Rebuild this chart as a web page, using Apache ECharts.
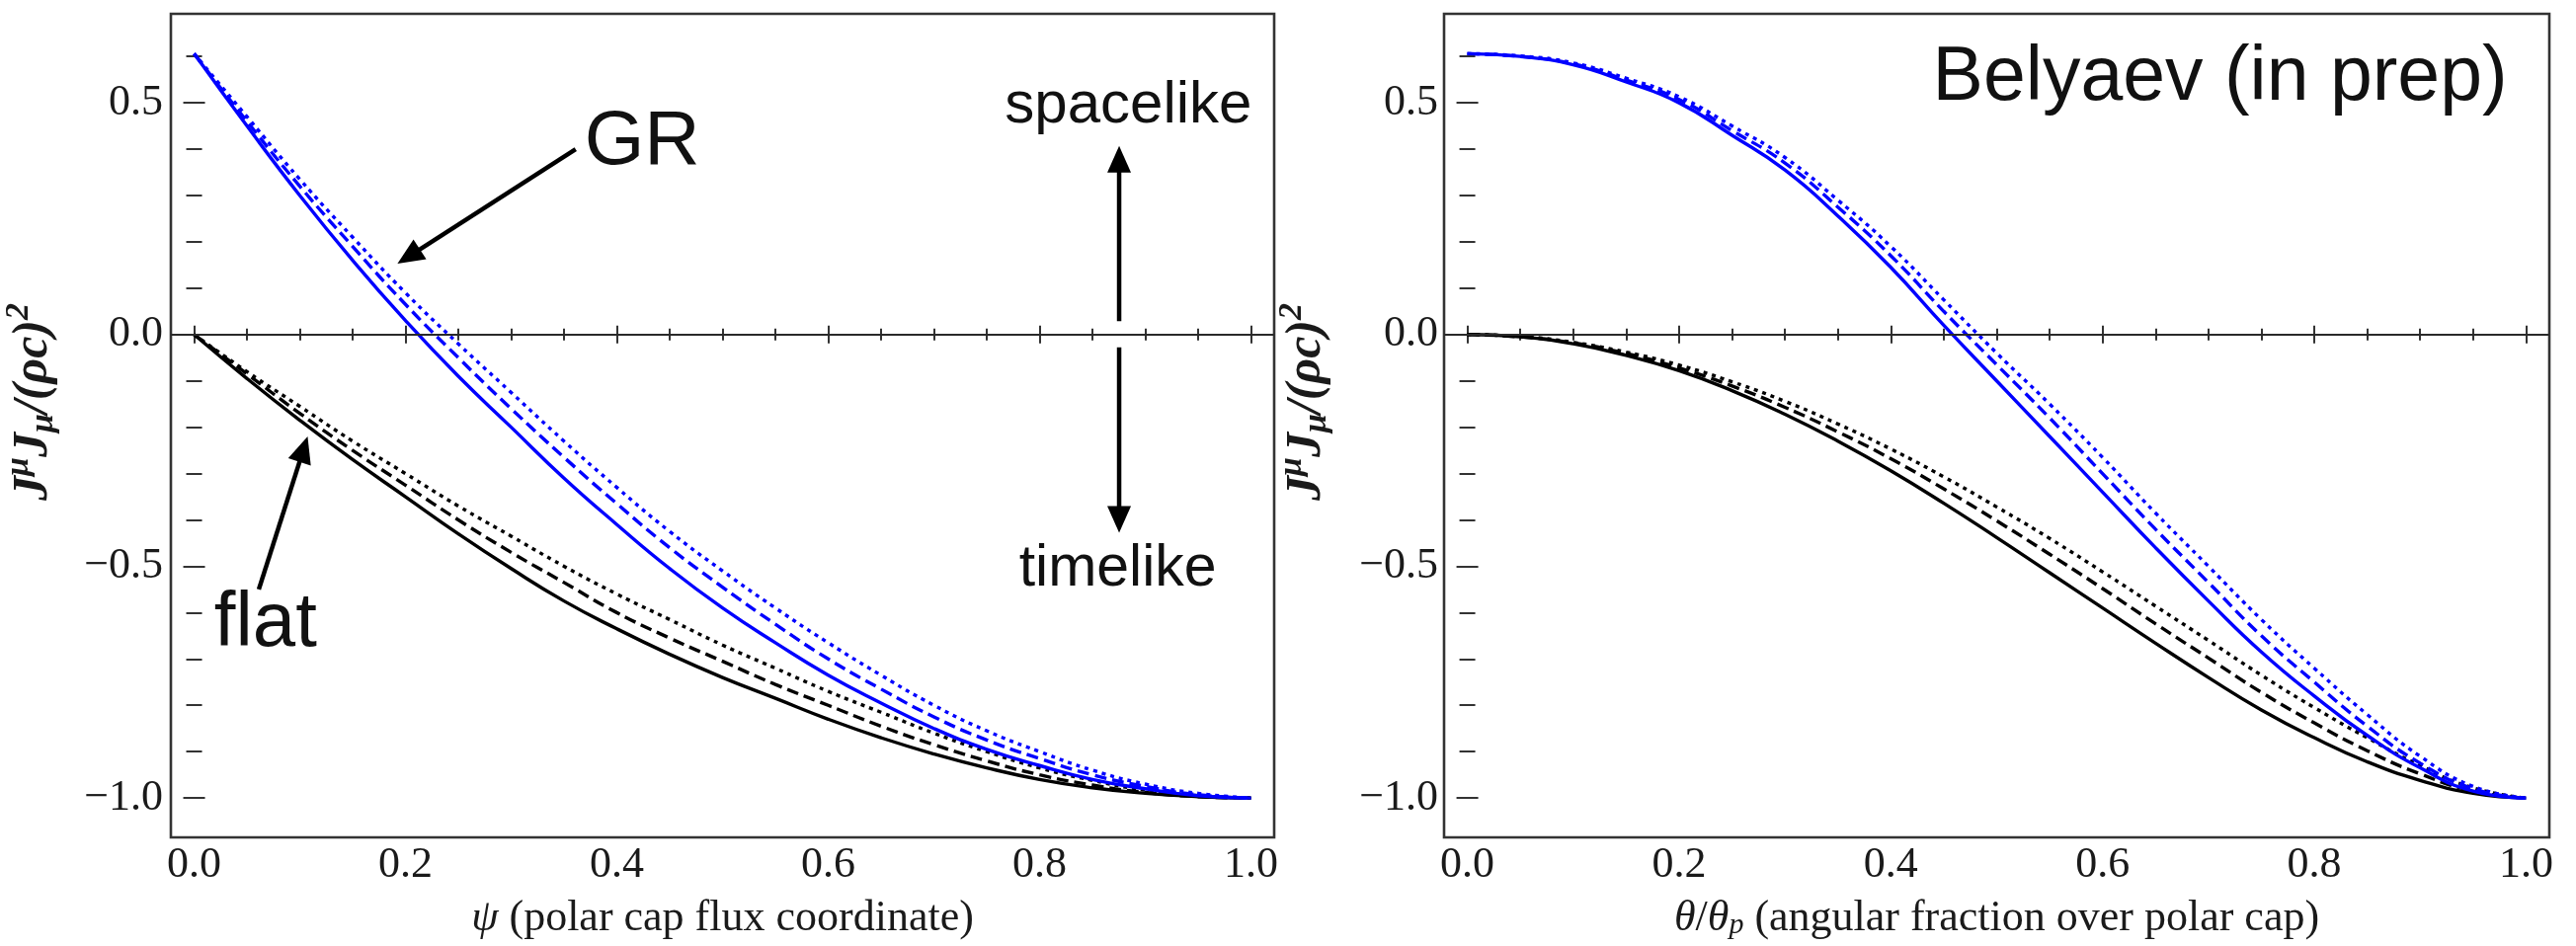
<!DOCTYPE html>
<html>
<head>
<meta charset="utf-8">
<script src="https://cdn.jsdelivr.net/npm/echarts@6/dist/echarts.min.js"></script>
<style>
  html, body { margin: 0; padding: 0; background: #ffffff; }
  #chart { width: 2608px; height: 958px; }
</style>
</head>
<body>
<div id="chart"></div>
<script>
// ---- sample abscissae (both panels use the same spacing) ----
const psiSamples   = [0, 0.05, 0.1, 0.15, 0.2, 0.25, 0.3, 0.35, 0.4, 0.45, 0.5, 0.55, 0.6, 0.65, 0.7, 0.75, 0.8, 0.85, 0.9, 0.95, 1.0];
const thetaSamples = [0, 0.05, 0.1, 0.15, 0.2, 0.25, 0.3, 0.35, 0.4, 0.45, 0.5, 0.55, 0.6, 0.65, 0.7, 0.75, 0.8, 0.85, 0.9, 0.95, 1.0];

// ---- left panel: J^mu J_mu/(rho c)^2 against psi ----
const flatSolidPsi  = [0, -0.095, -0.185, -0.27, -0.35, -0.43, -0.505, -0.575, -0.635, -0.69, -0.74, -0.785, -0.83, -0.87, -0.905, -0.935, -0.96, -0.978, -0.99, -0.997, -1.0];
const flatDashedPsi = [0, -0.085, -0.17, -0.25, -0.325, -0.4, -0.47, -0.535, -0.6, -0.655, -0.705, -0.755, -0.8, -0.845, -0.885, -0.92, -0.95, -0.972, -0.988, -0.997, -1.0];
const flatDottedPsi = [0, -0.08, -0.155, -0.23, -0.3, -0.37, -0.435, -0.5, -0.56, -0.615, -0.67, -0.72, -0.77, -0.815, -0.86, -0.9, -0.935, -0.962, -0.983, -0.995, -1.0];
const grSolidPsi    = [0.606, 0.45, 0.30, 0.16, 0.03, -0.09, -0.2, -0.31, -0.41, -0.505, -0.59, -0.665, -0.735, -0.795, -0.85, -0.895, -0.93, -0.96, -0.98, -0.995, -1.0];
const grDashedPsi   = [0.606, 0.46, 0.32, 0.19, 0.065, -0.05, -0.16, -0.265, -0.365, -0.46, -0.545, -0.625, -0.7, -0.765, -0.825, -0.875, -0.915, -0.95, -0.975, -0.993, -1.0];
const grDottedPsi   = [0.606, 0.47, 0.335, 0.21, 0.09, -0.02, -0.125, -0.23, -0.33, -0.425, -0.51, -0.59, -0.665, -0.735, -0.8, -0.855, -0.9, -0.94, -0.97, -0.99, -1.0];

// ---- right panel: same quantity against theta/theta_p ----
const flatSolidTheta  = [0, -0.005, -0.02, -0.045, -0.078, -0.121, -0.172, -0.23, -0.294, -0.364, -0.438, -0.514, -0.59, -0.666, -0.74, -0.81, -0.87, -0.922, -0.962, -0.99, -1.0];
const flatDashedTheta = [0, -0.005, -0.018, -0.041, -0.072, -0.111, -0.157, -0.21, -0.268, -0.333, -0.402, -0.474, -0.548, -0.624, -0.698, -0.772, -0.838, -0.898, -0.948, -0.985, -1.0];
const flatDottedTheta = [0, -0.004, -0.017, -0.038, -0.066, -0.102, -0.144, -0.193, -0.247, -0.307, -0.372, -0.44, -0.512, -0.586, -0.66, -0.735, -0.805, -0.87, -0.93, -0.978, -1.0];
const grSolidTheta    = [0.606, 0.60, 0.582, 0.545, 0.50, 0.43, 0.355, 0.256, 0.145, 0.02, -0.10, -0.22, -0.34, -0.46, -0.575, -0.685, -0.78, -0.865, -0.935, -0.985, -1.0];
const grDashedTheta   = [0.606, 0.60, 0.584, 0.549, 0.507, 0.44, 0.37, 0.275, 0.17, 0.05, -0.065, -0.18, -0.3, -0.42, -0.535, -0.65, -0.75, -0.845, -0.925, -0.98, -1.0];
const grDottedTheta   = [0.606, 0.601, 0.586, 0.553, 0.513, 0.45, 0.382, 0.29, 0.19, 0.075, -0.04, -0.15, -0.265, -0.385, -0.5, -0.615, -0.72, -0.82, -0.91, -0.975, -1.0];

// ---- axes ----
const xRange = [-0.022, 1.022];
const yRange = [-1.085, 0.692];
const xMajorTicks = [0, 0.2, 0.4, 0.6, 0.8, 1.0];
const xMinorTicks = [0, 0.05, 0.1, 0.15, 0.2, 0.25, 0.3, 0.35, 0.4, 0.45, 0.5, 0.55, 0.6, 0.65, 0.7, 0.75, 0.8, 0.85, 0.9, 0.95, 1.0];
const yMajorTicks = [-1.0, -0.5, 0, 0.5];
const yMinorTicks = [-1.0, -0.9, -0.8, -0.7, -0.6, -0.5, -0.4, -0.3, -0.2, -0.1, 0, 0.1, 0.2, 0.3, 0.4, 0.5, 0.6];

// ---- annotations (data units of the panel they sit in) ----
const annotationArrows = [
  { panel: 0, from: [0.361, 0.400],   to: [0.1924, 0.1527] },
  { panel: 0, from: [0.0612, -0.55],  to: [0.1074, -0.22] },
  { panel: 0, from: [0.8753, 0.0288], to: [0.8753, 0.407] },
  { panel: 0, from: [0.8753, -0.0277], to: [0.8753, -0.4277] }
];
const annotationTexts = [
  { panel: 0, text: 'GR',        at: [0.3693, 0.362],  align: 'left',   size: 78 },
  { panel: 0, text: 'flat',      at: [0.019, -0.678],  align: 'left',   size: 78 },
  { panel: 0, text: 'spacelike', at: [0.884, 0.454],   align: 'center', size: 60 },
  { panel: 0, text: 'timelike',  at: [0.874, -0.545],  align: 'center', size: 59 },
  { panel: 1, text: 'Belyaev (in prep)', at: [0.9825, 0.5016], align: 'right', size: 77 }
];

const SERIF = '"Liberation Serif", "Times New Roman", serif';
const SANS = '"Liberation Sans", Helvetica, Arial, sans-serif';
const FRAME = '#333333';
const BLUE = '#0000ff';
const BLACK = '#000000';
const DASHED = [12, 6];
const DOTTED = [4, 5];

const fmt = v => (v < 0 ? '\u2212' : '') + Math.abs(v).toFixed(1);
const tickStyle = { color: FRAME, width: 2 };

function xAxesFor(gridIndex, title, titleRich) {
  const base = {
    type: 'value', gridIndex, min: xRange[0], max: xRange[1],
    axisLine: { show: false }, splitLine: { show: false }
  };
  return [
    Object.assign({}, base, {
      position: 'bottom',
      axisTick: { show: true, inside: true, length: 9, customValues: xMajorTicks, lineStyle: tickStyle },
      axisLabel: { show: true, customValues: xMajorTicks, formatter: fmt, margin: 6,
                   fontFamily: SERIF, fontSize: 44, color: '#1a1a1a' },
      name: title, nameLocation: 'middle', nameGap: 60,
      nameTextStyle: { fontFamily: SERIF, fontSize: 44, color: '#1a1a1a', rich: titleRich }
    }),
    Object.assign({}, base, {
      position: 'bottom',
      axisTick: { show: true, inside: true, length: 6, customValues: xMinorTicks, lineStyle: tickStyle },
      axisLabel: { show: false }
    }),
    Object.assign({}, base, {
      position: 'top',
      axisTick: { show: true, inside: true, length: 9, customValues: xMajorTicks, lineStyle: tickStyle },
      axisLabel: { show: false }
    }),
    Object.assign({}, base, {
      position: 'top',
      axisTick: { show: true, inside: true, length: 6, customValues: xMinorTicks, lineStyle: tickStyle },
      axisLabel: { show: false }
    })
  ];
}

function yAxesFor(gridIndex, labelMargin) {
  const base = {
    type: 'value', gridIndex, min: yRange[0], max: yRange[1],
    axisLine: { show: false }, splitLine: { show: false }
  };
  return [
    Object.assign({}, base, {
      position: 'left',
      axisTick: { show: true, inside: true, length: 11, customValues: yMajorTicks, lineStyle: tickStyle },
      axisLabel: { show: true, customValues: yMajorTicks, formatter: fmt, margin: labelMargin,
                   fontFamily: SERIF, fontSize: 44, color: '#1a1a1a', padding: [0, 0, 12, 0] }
    }),
    Object.assign({}, base, {
      position: 'left',
      axisTick: { show: true, inside: true, length: 8, customValues: yMinorTicks, lineStyle: tickStyle },
      axisLabel: { show: false }
    }),
    Object.assign({}, base, {
      position: 'right',
      axisTick: { show: true, inside: true, length: 11, customValues: yMajorTicks, lineStyle: tickStyle },
      axisLabel: { show: false }
    }),
    Object.assign({}, base, {
      position: 'right',
      axisTick: { show: true, inside: true, length: 8, customValues: yMinorTicks, lineStyle: tickStyle },
      axisLabel: { show: false }
    })
  ];
}

const xTitleRich = {
  i:   { fontFamily: SERIF, fontStyle: 'italic', fontSize: 44, color: '#1a1a1a' },
  sub: { fontFamily: SERIF, fontStyle: 'italic', fontSize: 30, color: '#1a1a1a', verticalAlign: 'bottom', lineHeight: 30 }
};

// vertical quantity label J^mu J_mu/(rho c)^2, set beside each panel
const yTitleText = '{j|J}{sup|\u03bc}{j|J}{sub|\u03bc}{j|/(\u03c1c)}{sup|2}';
const yTitleRich = {
  j:   { fontFamily: SERIF, fontStyle: 'italic', fontWeight: 'bold', fontSize: 50, lineHeight: 64, verticalAlign: 'middle', fill: '#1a1a1a' },
  sup: { fontFamily: SERIF, fontStyle: 'italic', fontWeight: 'bold', fontSize: 34, lineHeight: 34, verticalAlign: 'top', fill: '#1a1a1a' },
  sub: { fontFamily: SERIF, fontStyle: 'italic', fontWeight: 'bold', fontSize: 34, lineHeight: 34, padding: [0, 0, 5, 0], verticalAlign: 'bottom', fill: '#1a1a1a' }
};

function curve(xs, ys, color, dash, axisIndex, z) {
  return {
    type: 'line',
    xAxisIndex: axisIndex, yAxisIndex: axisIndex,
    data: xs.map((x, i) => [x, ys[i]]),
    showSymbol: false, symbol: 'none',
    smooth: 0.5,
    lineStyle: { color, width: 3.4, type: dash, cap: 'butt' },
    silent: true, animation: false, z
  };
}

const zeroLine = {
  silent: true, symbol: ['none', 'none'], label: { show: false },
  lineStyle: { color: '#2a2a2a', width: 2, type: 'solid' },
  data: [{ yAxis: 0 }], animation: false
};

const series = [
  curve(psiSamples, flatSolidPsi,  BLACK, 'solid', 0, 3),
  curve(psiSamples, flatDashedPsi, BLACK, DASHED,  0, 3),
  curve(psiSamples, flatDottedPsi, BLACK, DOTTED,  0, 3),
  curve(psiSamples, grSolidPsi,    BLUE,  'solid', 0, 4),
  curve(psiSamples, grDashedPsi,   BLUE,  DASHED,  0, 4),
  curve(psiSamples, grDottedPsi,   BLUE,  DOTTED,  0, 4),
  curve(thetaSamples, flatSolidTheta,  BLACK, 'solid', 4, 3),
  curve(thetaSamples, flatDashedTheta, BLACK, DASHED,  4, 3),
  curve(thetaSamples, flatDottedTheta, BLACK, DOTTED,  4, 3),
  curve(thetaSamples, grSolidTheta,    BLUE,  'solid', 4, 4),
  curve(thetaSamples, grDashedTheta,   BLUE,  DASHED,  4, 4),
  curve(thetaSamples, grDottedTheta,   BLUE,  DOTTED,  4, 4)
];
series[0].markLine = zeroLine;
series[6].markLine = zeroLine;

const option = {
  animation: false,
  backgroundColor: '#ffffff',
  grid: [
    { left: 173, top: 14, width: 1117, height: 834, show: true, borderColor: FRAME, borderWidth: 2.6, backgroundColor: 'transparent' },
    { left: 1462, top: 14, width: 1119, height: 834, show: true, borderColor: FRAME, borderWidth: 2.6, backgroundColor: 'transparent' }
  ],
  xAxis: [].concat(
    xAxesFor(0, '{i|\u03c8} (polar cap flux coordinate)', xTitleRich),
    xAxesFor(1, '{i|\u03b8}/{i|\u03b8}{sub|p} (angular fraction over polar cap)', xTitleRich)
  ),
  yAxis: [].concat(yAxesFor(0, 8), yAxesFor(1, 6)),
  series
};

const chart = echarts.init(document.getElementById('chart'), null, { renderer: 'canvas' });
chart.setOption(option);

// ---- arrows, text labels and the vertical quantity labels ----
function toPx(panel, pt) {
  return chart.convertToPixel({ seriesIndex: panel * 6 }, pt);
}
function arrowGraphics(a) {
  const p0 = toPx(a.panel, a.from);
  const p1 = toPx(a.panel, a.to);
  const dx = p1[0] - p0[0], dy = p1[1] - p0[1];
  const len = Math.hypot(dx, dy);
  const ux = dx / len, uy = dy / len;
  const headLen = 27, headHalf = 12;
  const bx = p1[0] - ux * headLen, by = p1[1] - uy * headLen;
  return [
    { type: 'line', z: 100, silent: true,
      shape: { x1: p0[0], y1: p0[1], x2: bx + ux * 2, y2: by + uy * 2 },
      style: { stroke: '#000', lineWidth: 4.5 } },
    { type: 'polygon', z: 100, silent: true,
      shape: { points: [[p1[0], p1[1]], [bx - uy * headHalf, by + ux * headHalf], [bx + uy * headHalf, by - ux * headHalf]] },
      style: { fill: '#000' } }
  ];
}
const graphics = [];
annotationArrows.forEach(a => graphics.push(...arrowGraphics(a)));
annotationTexts.forEach(t => {
  const p = toPx(t.panel, t.at);
  graphics.push({
    type: 'text', z: 100, silent: true,
    x: p[0], y: p[1] - 0.31 * t.size,
    style: { text: t.text, font: 'normal ' + t.size + 'px ' + SANS, fill: '#111', align: t.align, verticalAlign: 'middle' }
  });
});
[0, 1].forEach(panel => {
  const rect = chart.getModel().getComponent('grid', panel).coordinateSystem.getRect();
  graphics.push({
    type: 'text', z: 100, silent: true,
    x: rect.x - 139, y: rect.y + rect.height / 2 - 24,
    rotation: Math.PI / 2,
    style: { text: yTitleText, rich: yTitleRich, align: 'center', verticalAlign: 'middle', fill: '#1a1a1a' }
  });
});
chart.setOption({ graphic: graphics });
</script>
</body>
</html>
